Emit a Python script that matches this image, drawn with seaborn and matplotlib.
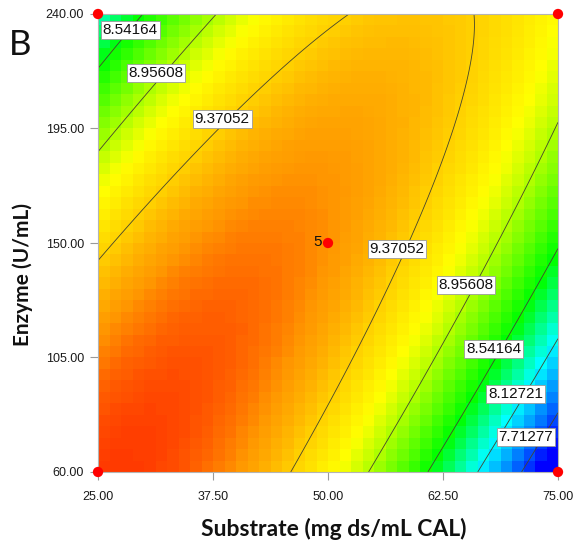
import numpy as np
import pandas as pd
import matplotlib
matplotlib.use("Agg")
import matplotlib.pyplot as plt
import seaborn as sns
from matplotlib.colors import LinearSegmentedColormap, Normalize

# Factor ranges (actual units)
substrate_range = [25.0, 75.0]      # mg ds/mL CAL
enzyme_range = [60.0, 240.0]        # U/mL

# Quadratic response model in coded units: b0, A, B, AB, A^2, B^2
model_terms = ["b0", "A", "B", "AB", "A2", "B2"]
model_coefs = [9.5803, -0.3749, 0.0714, 0.8408, -0.6417, -0.3184]

contour_levels = [7.71277, 8.12721, 8.54164, 8.95608, 9.37052]

x_ticks = [25.0, 37.5, 50.0, 62.5, 75.0]
y_ticks = [60.0, 105.0, 150.0, 195.0, 240.0]

# Design points shown on the plot (5 replicates at the centre)
design_substrate = [25.0, 25.0, 75.0, 75.0, 50.0]
design_enzyme = [60.0, 240.0, 60.0, 240.0, 150.0]
design_labels = ["", "", "", "", "5"]

# Where each contour value is printed (substrate, enzyme)
label_levels = [8.54164, 8.95608, 9.37052, 9.37052, 8.95608, 8.54164, 8.12721, 7.71277]
label_pos = [(28.5, 233.7), (31.3, 216.8), (38.5, 198.7), (57.5, 147.6),
             (65.0, 133.5), (68.0, 108.3), (70.4, 90.7), (71.5, 73.8)]

# Colour ramp: response value -> colour
ramp_values = [7.55, 8.15, 8.54, 9.15, 9.37, 9.58, 9.80]
ramp_colors = ["#0000ff", "#00ffff", "#00ff00", "#ffff00", "#ffd200", "#ff9600", "#ff2800"]

sns.set_style("white")
plt.rcParams['font.family'] = ['Liberation Sans', 'DejaVu Sans']


def predict(a, b):
    c = dict(zip(model_terms, model_coefs))
    return (c["b0"] + c["A"] * a + c["B"] * b + c["AB"] * a * b
            + c["A2"] * a * a + c["B2"] * b * b)


def to_coded(v, rng):
    mid = (rng[0] + rng[1]) / 2
    half = (rng[1] - rng[0]) / 2
    return (np.asarray(v) - mid) / half


# coarse raster for the coloured surface
n_cells = 40
x_edges = np.linspace(*substrate_range, n_cells + 1)
y_edges = np.linspace(*enzyme_range, n_cells + 1)
xc = (x_edges[:-1] + x_edges[1:]) / 2
yc = (y_edges[:-1] + y_edges[1:]) / 2
XC, YC = np.meshgrid(xc, yc)
Z = predict(to_coded(XC, substrate_range), to_coded(YC, enzyme_range))

# fine grid for smooth contour lines
xf = np.linspace(*substrate_range, 301)
yf = np.linspace(*enzyme_range, 301)
XF, YF = np.meshgrid(xf, yf)
ZF = predict(to_coded(XF, substrate_range), to_coded(YF, enzyme_range))

lo, hi = ramp_values[0], ramp_values[-1]
ramp = LinearSegmentedColormap.from_list(
    "ramp", [((v - lo) / (hi - lo), c) for v, c in zip(ramp_values, ramp_colors)])

fig = plt.figure(figsize=(5.77, 5.55), dpi=100)
ax = fig.add_axes([98 / 577, 1 - 472 / 555, 460 / 577, 458 / 555])

ax.pcolormesh(x_edges, y_edges, Z, cmap=ramp, norm=Normalize(lo, hi, clip=True),
              shading="flat")
ax.contour(XF, YF, ZF, levels=contour_levels, colors="#45452e", linewidths=0.6)

for lev, (px, py) in zip(label_levels, label_pos):
    ax.text(px, py, f"{lev:.5f}", ha="center", va="center", fontsize=11,
            color="#111111", zorder=5,
            bbox=dict(boxstyle="square,pad=0.12", fc="white", ec="#9a9a9a", lw=0.6))

pts = pd.DataFrame({"Substrate": design_substrate, "Enzyme": design_enzyme})
sns.scatterplot(data=pts, x="Substrate", y="Enzyme", ax=ax, color="#ff0000",
                s=55, edgecolor="none", clip_on=False, zorder=6, legend=False)
for xs, ys, lab in zip(design_substrate, design_enzyme, design_labels):
    if lab:
        ax.text(xs - 0.7, ys + 0.5, lab, ha="right", va="center", fontsize=11,
                color="#111111", zorder=7)

ax.set_xlim(*substrate_range)
ax.set_ylim(*enzyme_range)
ax.set_xticks(x_ticks)
ax.set_yticks(y_ticks)
ax.set_xticklabels([f"{t:.2f}" for t in x_ticks])
ax.set_yticklabels([f"{t:.2f}" for t in y_ticks])
ax.tick_params(axis="both", direction="out", length=6, width=0.8, color="#9a9a9a",
               labelsize=9, labelcolor="#1a1a1a", pad=4, bottom=True, left=True)
ax.tick_params(axis="x", pad=8)
for side in ax.spines.values():
    side.set_color("#b4b4b4")
    side.set_linewidth(0.8)

ax.set_xlabel("Substrate (mg ds/mL CAL)", fontsize=16.5, fontweight="bold",
              family=["Lato", "DejaVu Sans"], color="#111111")
ax.set_ylabel("Enzyme (U/mL)", fontsize=15, fontweight="bold",
              family=["Lato", "DejaVu Sans"], color="#111111")
ax.xaxis.set_label_coords((334 - 98) / 460, -(518 - 472) / 458)
ax.yaxis.set_label_coords(-(98 - 33) / 460, (472 - 275) / 458)

fig.text(9 / 577, 1 - 45 / 555, "B", fontsize=25, family=["Lato", "DejaVu Sans"],
         ha="left", va="center", color="#111111")

fig.savefig("out.png", dpi=100)
